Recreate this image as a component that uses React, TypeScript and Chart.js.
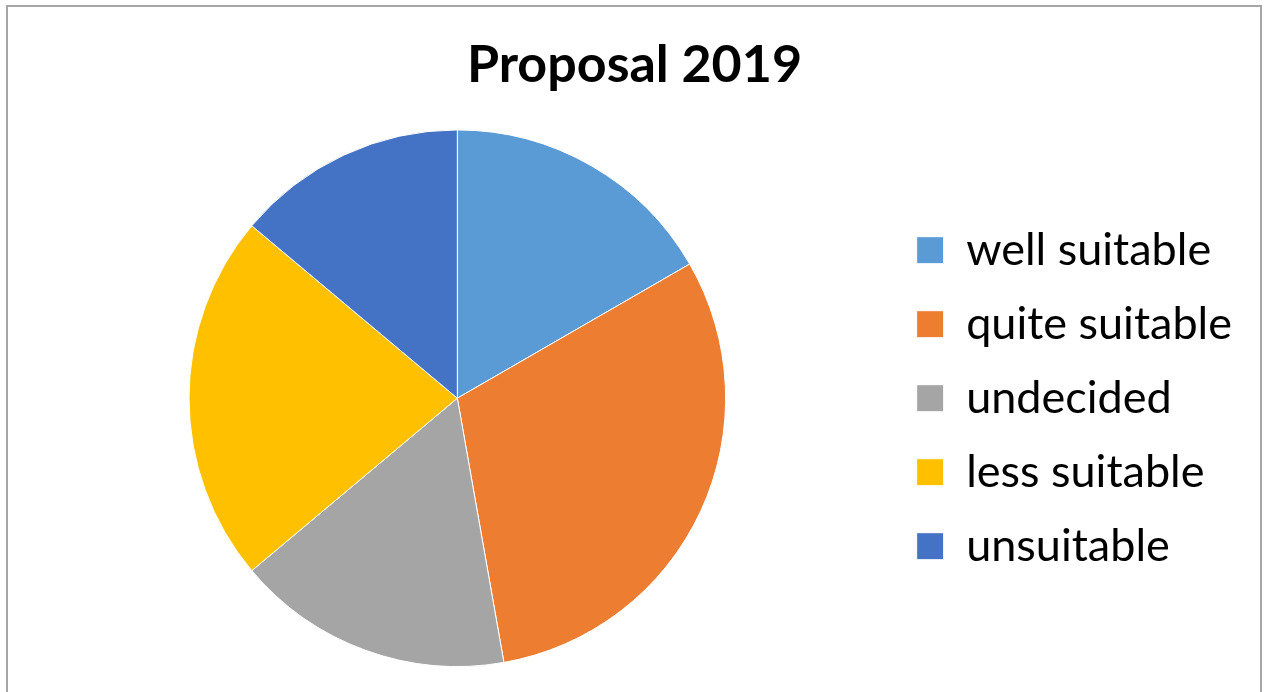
import React, { useEffect, useRef } from "react";
import { Chart, registerables } from "chart.js";

Chart.register(...registerables);

const categories = ["well suitable", "quite suitable", "undecided", "less suitable", "unsuitable"];
const counts = [6, 11, 6, 8, 5];
const colors = ["#5B9BD5", "#ED7D31", "#A5A5A5", "#FFC000", "#4472C4"];
const titleText = "Proposal 2019";

const FONT = "Lato, 'Open Sans', sans-serif";

export default function App() {
  const ref = useRef<HTMLCanvasElement | null>(null);

  useEffect(() => {
    if (!ref.current) return;
    const chart = new Chart(ref.current, {
      type: "pie",
      data: {
        labels: categories,
        datasets: [
          {
            data: counts,
            backgroundColor: colors,
            borderColor: "#ffffff",
            borderWidth: 1,
          },
        ],
      },
      options: {
        animation: false,
        responsive: false,
        devicePixelRatio: 1,
        layout: { padding: { left: 27, right: 22, top: 0, bottom: 25 } },
        plugins: {
          title: {
            display: true,
            text: titleText,
            color: "#000000",
            font: { family: FONT, size: 52, weight: "bold", lineHeight: 1.2 },
            padding: { top: 34, bottom: 33 },
          },
          legend: {
            position: "right",
            align: "center",
            fullSize: false,
            labels: {
              color: "#000000",
              font: { family: FONT, size: 45 },
              boxWidth: 27,
              boxHeight: 27,
              padding: 29,
            },
          },
          tooltip: { enabled: false },
        },
      },
    });
    return () => chart.destroy();
  }, []);

  return (
    <div style={{ position: "fixed", left: 0, top: 0, width: 1264, height: 692, background: "#fff", overflow: "hidden" }}>
      <div
        style={{
          position: "absolute",
          left: 6,
          top: 5,
          width: 1256,
          height: 700,
          boxSizing: "border-box",
          border: "2px solid #a6a6a6",
        }}
      />
      <canvas ref={ref} width={1264} height={692} style={{ position: "absolute", left: 0, top: 0 }} />
    </div>
  );
}
